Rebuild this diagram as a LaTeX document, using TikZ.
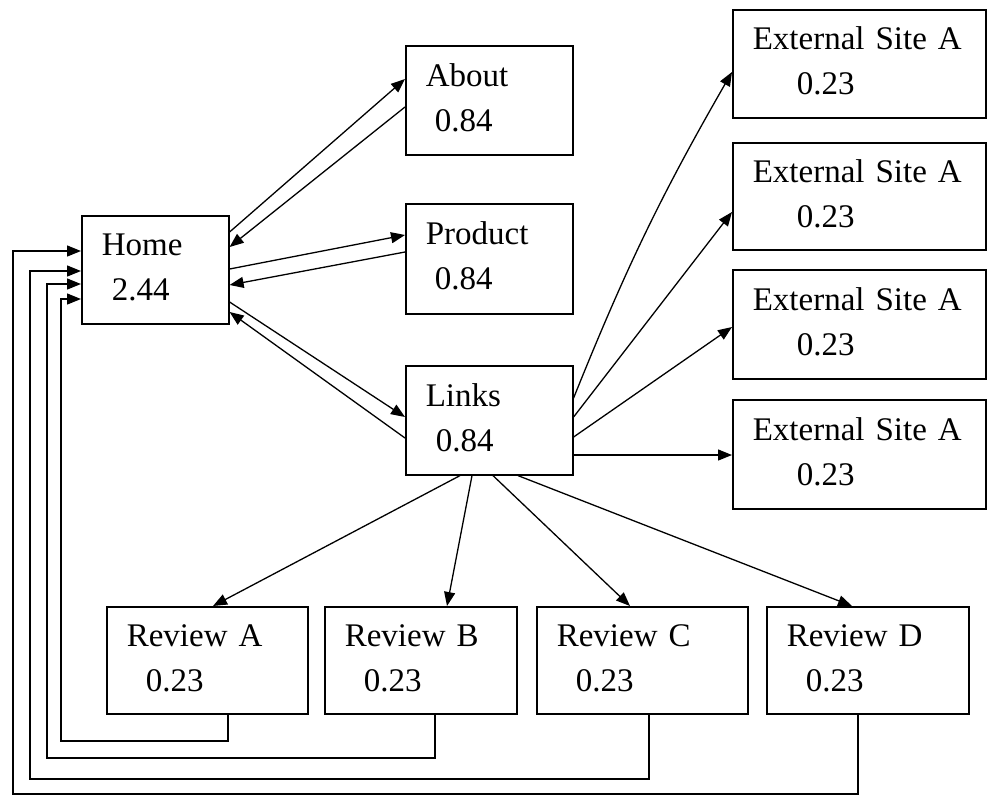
\documentclass[tikz,border=0pt]{standalone}
\usepackage{fontspec}
\setmainfont{Liberation Serif}
\usetikzlibrary{arrows.meta}

\begin{document}
\begin{tikzpicture}[x=1pt,y=-1pt,->,>={Triangle[length=14pt,width=11pt]},line width=1.3pt,
  page node/.style={draw,line width=1.6pt,rectangle,anchor=north west,align=left,inner xsep=20pt,inner ysep=0pt,minimum height=109pt,text height=17pt,font=\fontsize{33}{45}\selectfont}]
        \useasboundingbox (0,0) rectangle (987,796);

        \node[page node,text width=107pt,minimum height=108pt] (home) at (81,215) {Home\\\hspace*{10pt}2.44};
        \node[page node,text width=127pt] (about) at (405,45) {About\\\hspace*{9pt}0.84};
        \node[page node,text width=127pt,minimum height=110pt] (product) at (405,203) {Product\\\hspace*{9pt}0.84};
        \node[page node,text width=127pt] (links) at (405,365) {Links\\\hspace*{10pt}0.84};

        \node[page node,text width=213pt,minimum height=108pt] (ext1) at (732,9) {External~Site~A\\\hspace*{44pt}0.23};
        \node[page node,text width=213pt,minimum height=107pt] (ext2) at (732,142) {External~Site~A\\\hspace*{44pt}0.23};
        \node[page node,text width=213pt] (ext3) at (732,269) {External~Site~A\\\hspace*{44pt}0.23};
        \node[page node,text width=213pt] (ext4) at (732,399) {External~Site~A\\\hspace*{44pt}0.23};

        \node[page node,text width=161pt,minimum height=107pt] (revA) at (106,606) {Review~A\\\hspace*{19pt}0.23};
        \node[page node,text width=152pt,minimum height=107pt] (revB) at (324,606) {Review~B\\\hspace*{19pt}0.23};
        \node[page node,text width=171pt,minimum height=107pt] (revC) at (536,606) {Review~C\\\hspace*{19pt}0.23};
        \node[page node,text width=162pt,minimum height=107pt] (revD) at (766,606) {Review~D\\\hspace*{19pt}0.23};

        % links between the pages
        \path
            ([yshift=-17pt]home.north east) edge ([yshift=-34pt]about.north west)
            ([yshift=-62pt]about.north west) edge ([yshift=-32pt]home.north east)
            ([yshift=-54pt]home.north east) edge ([yshift=-32pt]product.north west)
            ([yshift=-49pt]product.north west) edge ([yshift=-70pt]home.north east)
            ([yshift=-87pt]home.north east) edge ([yshift=-52pt]links.north west)
            ([yshift=-73pt]links.north west) edge ([yshift=-97pt]home.north east)
            ([yshift=-33pt]links.north east) edge[bend left=4] ([yshift=-63pt]ext1.north west)
            ([yshift=-52pt]links.north east) edge ([yshift=-70pt]ext2.north west)
            ([yshift=-72pt]links.north east) edge ([yshift=-58pt]ext3.north west)
            ([yshift=-90pt]links.north east) edge ([yshift=-56pt]ext4.north west)
            ([xshift=55pt]links.south west) edge ([xshift=107pt]revA.north west)
            ([xshift=67pt]links.south west) edge ([xshift=123pt]revB.north west)
            ([xshift=88pt]links.south west) edge ([xshift=94pt]revC.north west)
            ([xshift=113pt]links.south west) edge ([xshift=86pt]revD.north west)
            ;

        % every review links back to home
        \coordinate (laneA) at (61,741);
        \coordinate (laneB) at (47,758);
        \coordinate (laneC) at (30,779);
        \coordinate (laneD) at (13,794);
        \draw ([xshift=122pt]revA.south west) |- (laneA) |- ([yshift=-84pt]home.north west);
        \draw ([xshift=111pt]revB.south west) |- (laneB) |- ([yshift=-69pt]home.north west);
        \draw ([xshift=113pt]revC.south west) |- (laneC) |- ([yshift=-56pt]home.north west);
        \draw ([xshift=92pt]revD.south west) |- (laneD) |- ([yshift=-36pt]home.north west);
\end{tikzpicture}
\end{document}
